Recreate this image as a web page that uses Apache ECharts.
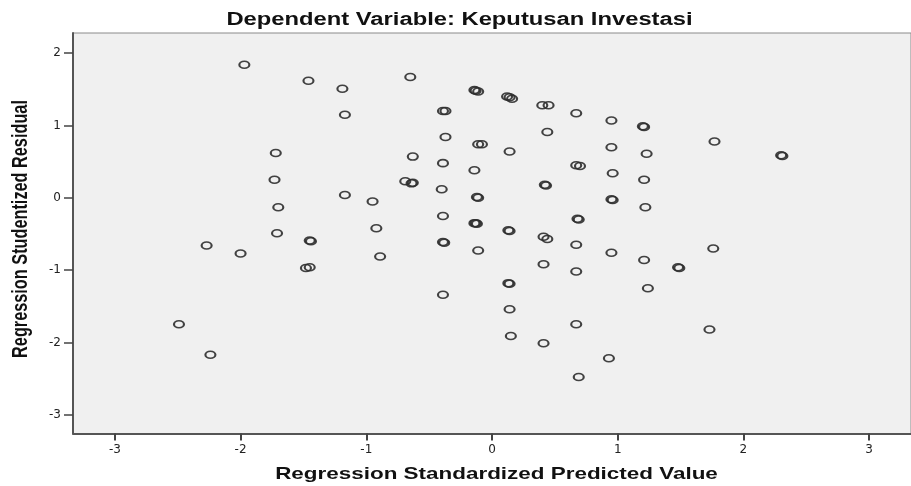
<!DOCTYPE html>
<html>
<head>
<meta charset="utf-8">
<script src="https://cdn.jsdelivr.net/npm/echarts@6/dist/echarts.min.js"></script>
<style>
html,body{margin:0;padding:0;background:#fff;}
#chart{width:911px;height:486px;}
</style>
</head>
<body>
<div id="chart"></div>
<script>
// Regression Standardized Predicted Value (x) and Studentized Residual (y)
var predictedValues = [
  -1.97,-1.46,-1.19,-1.17,-0.65,-1.72,-1.73,-1.70,-1.71,-1.45,-1.44,-2.27,-2.00,-1.48,-1.45,
  -1.17,-0.95,-0.92,-0.89,-2.49,-2.24,-0.39,-0.63,-0.69,-0.64,-0.63,-0.39,-0.37,-0.37,-0.39,
  -0.40,-0.39,-0.39,-0.38,-0.14,-0.13,-0.11,0.12,0.14,0.16,-0.11,-0.08,0.14,-0.14,-0.12,
  -0.11,-0.14,-0.13,-0.12,0.13,0.14,-0.11,0.13,0.14,0.14,0.15,0.40,0.45,0.67,0.95,
  1.20,1.21,0.44,0.95,1.23,0.67,0.70,0.96,1.21,0.42,0.43,0.95,0.96,1.22,0.68,
  0.69,0.41,0.44,0.67,0.95,1.21,1.48,1.49,0.41,0.67,1.24,0.67,0.41,0.93,0.69,
  1.76,1.73,1.77,2.30,2.31
];
var residualValues = [
  1.84,1.62,1.51,1.15,1.67,0.62,0.25,-0.13,-0.49,-0.59,-0.60,-0.66,-0.77,-0.97,-0.96,
  0.04,-0.05,-0.42,-0.81,-1.75,-2.17,-1.34,0.57,0.23,0.20,0.21,1.20,1.20,0.84,0.48,
  0.12,-0.25,-0.61,-0.62,1.49,1.48,1.47,1.40,1.39,1.37,0.74,0.74,0.64,0.38,0.01,
  0.00,-0.35,-0.35,-0.36,-0.45,-0.46,-0.73,-1.18,-1.19,-1.54,-1.91,1.28,1.28,1.17,1.07,
  0.99,0.98,0.91,0.70,0.61,0.45,0.44,0.34,0.25,0.18,0.17,-0.02,-0.03,-0.13,-0.29,
  -0.30,-0.54,-0.57,-0.65,-0.76,-0.86,-0.96,-0.97,-0.92,-1.02,-1.25,-1.75,-2.01,-2.22,-2.48,
  -0.70,-1.82,0.78,0.59,0.58
];
var xTickValues = [-3,-2,-1,0,1,2,3];
var yTickValues = [-3,-2,-1,0,1,2];
var titleText = 'Dependent Variable: Keputusan Investasi';
var xAxisTitle = 'Regression Standardized Predicted Value';
var yAxisTitle = 'Regression Studentized Residual';

var points = predictedValues.map(function (x, i) { return [x, residualValues[i]]; });

var chart = echarts.init(document.getElementById('chart'), null, {renderer: 'canvas'});
var labelFont = {fontFamily: 'DejaVu Sans, Arial, sans-serif', fontSize: 12, color: '#222'};
chart.setOption({
  animation: false,
  backgroundColor: '#ffffff',
  grid: {
    left: 73, top: 33, right: -8, bottom: 52.5,
    show: true, backgroundColor: '#f0f0f0', borderColor: '#8a8a8a', borderWidth: 1
  },
  xAxis: {
    type: 'value', min: -3.333, max: 3.333,
    splitLine: {show: false},
    axisLine: {show: true, onZero: false, lineStyle: {color: '#555', width: 2}},
    axisTick: {show: true, length: 7, customValues: xTickValues, lineStyle: {color: '#444', width: 2}},
    axisLabel: Object.assign({customValues: xTickValues, margin: 10}, labelFont)
  },
  yAxis: {
    type: 'value', min: -3.26, max: 2.28,
    splitLine: {show: false},
    axisLine: {show: true, onZero: false, lineStyle: {color: '#555', width: 2}},
    axisTick: {show: true, length: 9, customValues: yTickValues, lineStyle: {color: '#444', width: 1.5}},
    axisLabel: Object.assign({customValues: yTickValues, margin: 12}, labelFont)
  },
  series: [{
    type: 'scatter',
    data: points,
    symbol: 'circle',
    symbolSize: [10, 7],
    itemStyle: {color: 'rgba(0,0,0,0)', borderColor: '#2e2e2e', borderWidth: 1.8, opacity: 0.9}
  }],
  graphic: [
    {type: 'text', x: 459.5, y: 20, scaleX: 1.32, z: 100,
     style: {text: titleText, textAlign: 'center', textVerticalAlign: 'middle',
             font: 'bold 18px "Liberation Sans", Arial, sans-serif', fill: '#111'}},
    {type: 'text', x: 496.5, y: 474, scaleX: 1.32, z: 100,
     style: {text: xAxisTitle, textAlign: 'center', textVerticalAlign: 'middle',
             font: 'bold 17px "Liberation Sans", Arial, sans-serif', fill: '#111'}},
    {type: 'text', x: 21, y: 229, rotation: Math.PI / 2, scaleY: 1.32, z: 100,
     style: {text: yAxisTitle, textAlign: 'center', textVerticalAlign: 'middle',
             font: 'bold 16.3px "Liberation Sans", Arial, sans-serif', fill: '#111'}}
  ]
});
</script>
</body>
</html>
